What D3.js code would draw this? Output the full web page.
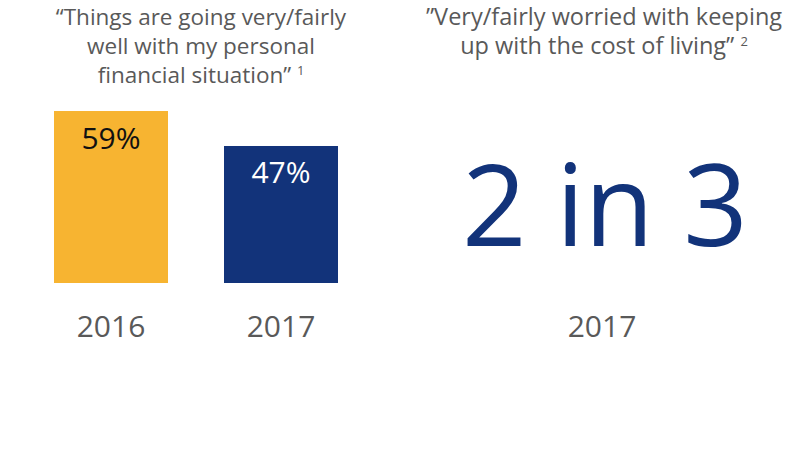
<!DOCTYPE html>
<html><head><meta charset="utf-8">
<script src="https://cdn.jsdelivr.net/npm/d3@7"></script>
<style>body{margin:0;background:#fff}svg{display:block}text{font-family:"Open Sans",sans-serif}</style>
</head><body>
<svg id="c" width="800" height="450"></svg>
<script>
const years = ["2016", "2017"];
const values = [59, 47];
const barColors = ["#F7B431", "#12337A"];
const labelColors = ["#111111", "#ffffff"];
const title1 = ["“Things are going very/fairly", "well with my personal", "financial situation” "];
const title1Sup = "1";
const title2 = ["”Very/fairly worried with keeping", "up with the cost of living” "];
const title2Sup = "2";
const bigStat = "2 in 3";
const bigStatYear = "2017";

const svg = d3.select("#c");
const x = d3.scaleBand().domain(years).range([54, 338]).paddingInner(56 / 170).paddingOuter(0);
const y = d3.scaleLinear().domain([0, 100]).range([283, -8.5]);

svg.selectAll("rect.bar").data(years).join("rect")
  .attr("class", "bar")
  .attr("x", d => x(d)).attr("width", x.bandwidth())
  .attr("y", (d, i) => y(values[i])).attr("height", (d, i) => y(0) - y(values[i]))
  .attr("fill", (d, i) => barColors[i]);

svg.selectAll("text.val").data(years).join("text")
  .attr("class", "val")
  .attr("x", d => x(d) + x.bandwidth() / 2)
  .attr("y", (d, i) => y(values[i]) + 37.5)
  .attr("text-anchor", "middle").attr("font-size", 30)
  .attr("fill", (d, i) => labelColors[i])
  .text((d, i) => values[i] + "%");

const xAxis = d3.axisBottom(x).tickSize(0).tickPadding(0);
const ax = svg.append("g").attr("transform", "translate(0,337)").call(xAxis);
ax.select(".domain").remove();
ax.selectAll("text").attr("font-size", 30).attr("fill", "#595959").attr("y", 0).attr("dy", 0)
  .style("font-family", '"Open Sans",sans-serif');

function title(lines, sup, cx, y0, fs) {
  const t = svg.append("text").attr("text-anchor", "middle").attr("font-size", fs).attr("fill", "#595959");
  lines.forEach((l, i) => {
    t.append("tspan").attr("x", cx).attr("y", y0 + i * 29).text(l);
    if (i === lines.length - 1) {
      t.append("tspan").attr("font-size", 13).attr("dy", -8).text(sup);
    }
  });
}
title(title1, title1Sup, 201, 25, 22.5);
title(title2, title2Sup, 604, 25, 23.5);

svg.append("text").attr("x", 605).attr("y", 246).attr("text-anchor", "middle")
  .attr("font-size", 113).attr("fill", "#12337A").text(bigStat);
svg.append("text").attr("x", 602).attr("y", 337).attr("text-anchor", "middle")
  .attr("font-size", 30).attr("fill", "#595959").text(bigStatYear);
</script>
</body></html>
